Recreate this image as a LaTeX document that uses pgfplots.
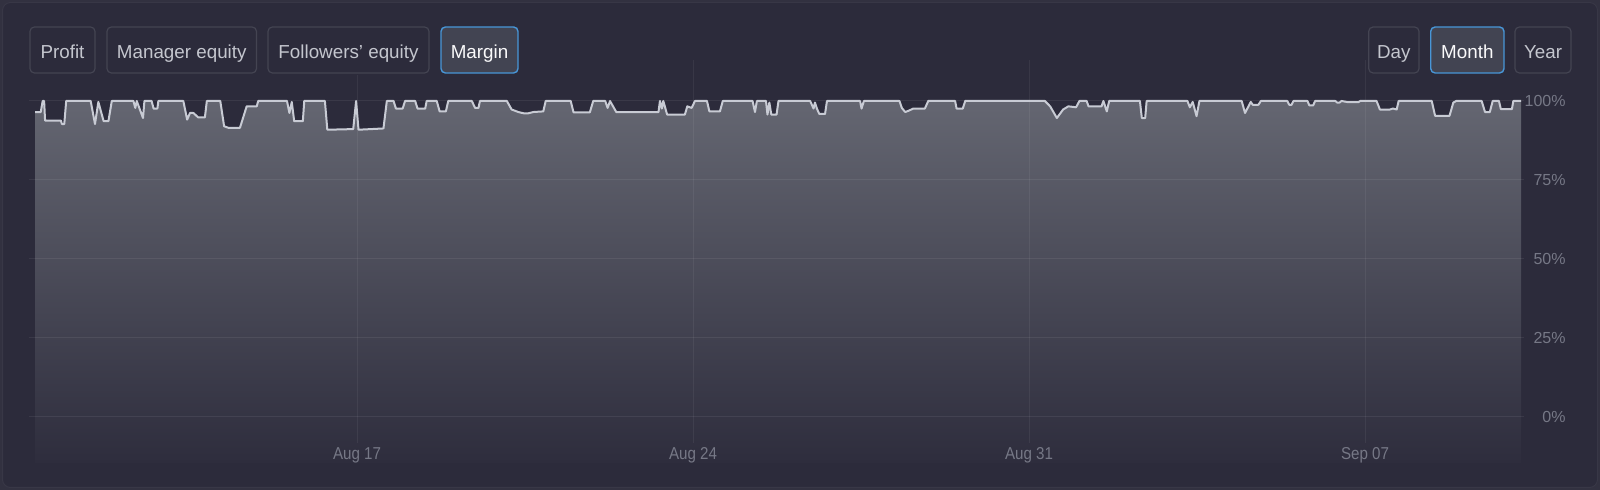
\documentclass[border=0pt]{standalone}
\usepackage{fontspec}
\setmainfont{Liberation Sans}
\usepackage{pgfplots}
\pgfplotsset{compat=1.18}
\usepackage{pgfplotstable}

\definecolor{pagebg}{RGB}{50,49,64}
\definecolor{cardbg}{RGB}{44,43,59}
\definecolor{cardedge}{RGB}{56,55,70}
\definecolor{btnedge}{RGB}{68,68,82}
\definecolor{btntext}{RGB}{196,198,206}
\definecolor{selfill}{RGB}{66,68,82}
\definecolor{seledge}{RGB}{72,150,215}
\definecolor{areatop}{RGB}{100,102,113}
\definecolor{areabot}{RGB}{46,45,61}
\definecolor{linec}{RGB}{200,203,212}
\definecolor{tickc}{RGB}{118,120,134}

% margin level (%), x = day (Aug 17 = 17, Sep 07 = 38)
\pgfplotstableread{
day   m
10.29 96.5
10.41 96.5
10.45 100
10.48 100
10.50 93.8
10.83 93.8
10.85 92.7
10.90 92.7
10.94 100
11.45 100
11.54 92.7
11.61 99.7
11.72 93.6
11.82 93.6
11.89 100
12.34 100
12.38 97.8
12.41 100
12.54 94.6
12.57 100
12.72 100
12.76 97.6
12.84 97.6
12.86 100
13.38 100
13.46 94.1
13.52 96.2
13.59 96.2
13.69 94.8
13.83 94.8
13.87 100
14.15 100
14.23 92.0
14.32 91.5
14.56 91.5
14.70 98.3
14.91 98.3
14.94 100
15.54 100
15.59 96.2
15.64 99.7
15.69 93.6
15.87 93.6
15.90 100
16.33 100
16.38 90.9
16.92 91.1
16.98 100
17.03 90.9
17.55 91.3
17.62 100
17.76 100
17.81 97.6
17.95 97.6
18.00 100
18.21 100
18.26 97.6
18.42 97.6
18.45 100
18.66 100
18.72 96.7
18.85 96.7
18.90 100
19.39 100
19.46 97.8
19.53 97.8
19.56 100
20.12 100
20.22 97.3
20.36 96.5
20.47 96.1
20.57 96.1
20.67 96.5
20.88 96.7
20.93 100
21.45 100
21.51 96.4
21.85 96.4
21.92 100
22.17 100
22.22 97.8
22.27 100
22.40 96.5
23.28 96.5
23.31 100
23.35 97.6
23.38 100
23.46 95.7
23.83 95.7
23.88 98.3
23.97 97.8
24.04 100
24.29 100
24.34 96.7
24.56 96.7
24.62 100
25.24 100
25.29 96.5
25.33 100
25.52 100
25.55 95.7
25.59 99.5
25.63 95.7
25.74 95.7
25.78 100
26.44 100
26.51 97.6
26.54 99.5
26.58 97.6
26.63 95.9
26.75 95.9
26.79 100
27.48 100
27.51 97.6
27.56 100
28.30 100
28.35 97.8
28.42 96.5
28.49 96.9
28.59 97.6
28.83 97.6
28.90 100
29.46 100
29.49 97.6
29.62 97.6
29.67 100
31.33 100
31.44 98.3
31.58 94.6
31.71 97.3
31.82 98.3
31.98 98.0
32.05 100
32.20 100
32.24 98.3
32.51 98.3
32.55 100
32.62 96.7
32.67 100
33.31 100
33.35 94.6
33.42 94.6
33.45 100
34.30 100
34.35 98.0
34.41 99.7
34.49 95.2
34.55 100
35.43 100
35.50 96.2
35.62 99.7
35.66 98.8
35.78 98.8
35.83 100
36.38 100
36.42 98.8
36.47 98.8
36.51 100
36.80 100
36.84 98.6
36.92 98.6
36.96 100
37.38 100
37.42 99.5
37.47 99.5
37.51 100
37.65 99.6
37.86 99.6
37.90 100
38.24 100
38.31 97.3
38.52 97.3
38.58 97.6
38.66 97.3
38.70 100
39.39 100
39.46 95.3
39.76 95.3
39.84 99.5
39.90 100
40.43 100
40.50 96.5
40.60 96.5
40.66 100
40.79 100
40.83 97.4
41.06 97.4
41.09 100
41.25 100
}\margin

\newcommand\btn[4]{% x0, x1, label, selected
  \ifnum#4=1
    \filldraw[fill=selfill, draw=seledge, line width=0.7pt, rounded corners=2.2pt] (#1,27) rectangle (#2,73);
    \node[text=white!92!btntext, font=\fontsize{9.4}{11}\selectfont, anchor=base] at ({(#1+#2)/2},58.3) {#3};
  \else
    \draw[btnedge, line width=0.6pt, rounded corners=2.2pt] (#1,27) rectangle (#2,73);
    \node[text=btntext, font=\fontsize{9.4}{11}\selectfont, anchor=base] at ({(#1+#2)/2},58.3) {#3};
  \fi}

\begin{document}
\begin{tikzpicture}
\fill[pagebg] (0,0) rectangle (800pt,-245pt);
\begin{scope}[x=0.5pt, y=-0.5pt]
  \filldraw[fill=cardbg, draw=cardedge, line width=0.5pt, rounded corners=4pt] (2.5,2.5) rectangle (1597.5,487.5);
\end{scope}

\begin{axis}[
    at={(17.5pt,-231.55pt)}, anchor=south west,
    scale only axis,
    width=743pt, height=201.6pt,
    xmin=10.29, xmax=41.25,
    ymin=-14.6, ymax=113,
    clip=false,
    axis on top,
    axis line style={draw=none},
    major tick length=0pt,
    xtick={17,24,31,38},
    xticklabels={Aug 17, Aug 24, Aug 31, Sep 07},
    ytick={0,25,50,75,100},
    yticklabels={0\%, 25\%, 50\%, 75\%, 100\%},
    yticklabel pos=right,
    x tick label style={font=\fontsize{8.6}{10}\selectfont, text=tickc, anchor=base, yshift=2pt, xscale=0.88},
    y tick label style={font=\fontsize{8}{10}\selectfont, text=tickc, anchor=east, inner sep=0pt, xshift=22.5pt},
]
% shaded area under the margin curve, down to the bottom of the chart
\addplot[draw=none, top color=areatop, bottom color=areabot] table[x=day, y=m] {\margin}
  -- (axis cs:41.25,-14.6) -- (axis cs:10.29,-14.6) -- cycle;

% grid
\draw[white, opacity=0.07, line width=0.5pt] (axis cs:10.17,0) -- (axis cs:41.31,0);
\draw[white, opacity=0.07, line width=0.5pt] (axis cs:10.17,25) -- (axis cs:41.31,25);
\draw[white, opacity=0.07, line width=0.5pt] (axis cs:10.17,50) -- (axis cs:41.31,50);
\draw[white, opacity=0.07, line width=0.5pt] (axis cs:10.17,75) -- (axis cs:41.31,75);
\draw[white, opacity=0.07, line width=0.5pt] (axis cs:10.17,100) -- (axis cs:41.31,100);
\draw[white, opacity=0.06, line width=0.5pt] (axis cs:17,-8.2) -- (axis cs:17,113);
\draw[white, opacity=0.06, line width=0.5pt] (axis cs:24,-8.2) -- (axis cs:24,113);
\draw[white, opacity=0.06, line width=0.5pt] (axis cs:31,-8.2) -- (axis cs:31,113);
\draw[white, opacity=0.06, line width=0.5pt] (axis cs:38,-8.2) -- (axis cs:38,113);

\addplot[linec, line width=1pt, line join=round, mark=none] table[x=day, y=m] {\margin};
\end{axis}

\begin{scope}[x=0.5pt, y=-0.5pt]
  \fill[cardbg] (28,25) rectangle (522,75);
  \fill[cardbg] (1366,25) rectangle (1573,75);
  \btn{30}{95}{Profit}{0}
  \btn{107}{256.5}{Manager equity}{0}
  \btn{268}{429}{Followers’ equity}{0}
  \btn{441}{518}{Margin}{1}
  \btn{1368.7}{1419}{Day}{0}
  \btn{1430.7}{1504}{Month}{1}
  \btn{1515}{1571}{Year}{0}
\end{scope}
\pgfresetboundingbox
\useasboundingbox (0,0) rectangle (800pt,-245pt);
\end{tikzpicture}
\end{document}
